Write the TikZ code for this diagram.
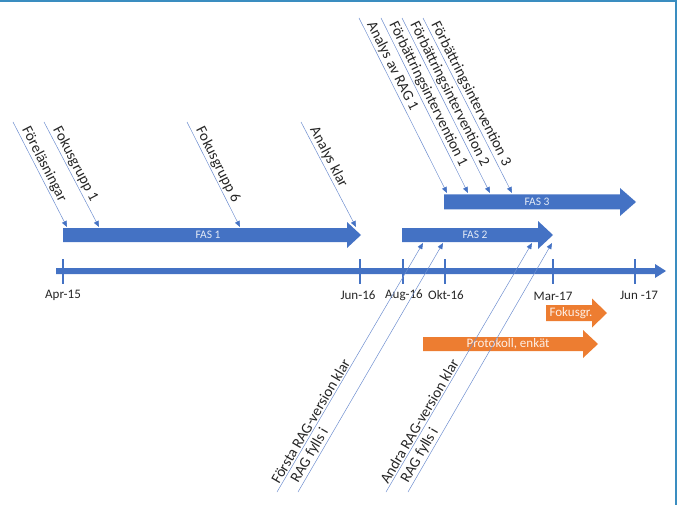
\documentclass[tikz,border=0pt]{standalone}
\usepackage{fontspec}
\setmainfont{Carlito}
\usetikzlibrary{arrows.meta}
\definecolor{obl}{HTML}{4472C4}
\definecolor{oor}{HTML}{ED7D31}
\definecolor{framec}{HTML}{3A8DC0}
\definecolor{txt}{HTML}{262626}
\definecolor{cl}{HTML}{6F8FD0}
\begin{document}
\begin{tikzpicture}[x=1pt,y=-1pt,
 callout/.style={draw=cl, line width=0.5pt, -{Triangle[length=6pt,width=5pt,color=obl,fill=obl]}},
 ctext/.style={font=\fontsize{15}{18}\selectfont, text=txt, inner sep=1.5pt, anchor=south west, sloped},
 datelbl/.style={font=\fontsize{13}{15}\selectfont, text=txt, inner sep=0pt},
 fastext/.style={font=\fontsize{11.5}{13}\selectfont, text=white!85!obl, inner sep=0pt},
 ortext/.style={font=\fontsize{13}{15}\selectfont, text=white!88!oor, inner sep=0pt},
 axtick/.style={draw=obl, line width=2pt},
]
\useasboundingbox (0,0) rectangle (677,505);
% frame (top and right)
\draw[draw=framec, line width=2.5pt] (0,1.2) -- (675.8,1.2) -- (675.8,505);

% time axis
\fill[obl] (56,268) -- (655,268) -- (655,264) -- (666,271) -- (655,278) -- (655,274) -- (56,274) -- cycle;
\foreach \xx in {63,360,403,445,553,635} \draw[axtick] (\xx,259) -- (\xx,284);
\node[datelbl] (d1) at (63,295) {Apr-15};
\node[datelbl] (d2) at (358,295) {Jun-16};
\node[datelbl] (d3) at (404,295) {Aug-16};
\node[datelbl] (d4) at (446,295) {Okt-16};
\node[datelbl] (d5) at (553,296) {Mar-17};
\node[datelbl] (d6) at (639,295) {Jun -17};

% phase arrows
\fill[obl] (63,228) -- (347,228) -- (347,222) -- (361,235) -- (347,248) -- (347,242) -- (63,242) -- cycle;
\node[fastext] (fas1) at (208,235) {FAS 1};
\fill[obl] (402,228) -- (538,228) -- (538,221) -- (553,235) -- (538,249) -- (538,242) -- (402,242) -- cycle;
\node[fastext] (fas2) at (475,235) {FAS 2};
\fill[obl] (444,194.5) -- (620,194.5) -- (620,188) -- (636,202) -- (620,216) -- (620,209.5) -- (444,209.5) -- cycle;
\node[fastext] (fas3) at (537,202) {FAS 3};

% orange arrows
\fill[oor] (546,305) -- (592,305) -- (592,298.5) -- (607,313) -- (592,327.5) -- (592,321) -- (546,321) -- cycle;
\node[ortext] (fok) at (571,313) {Fokusgr.};
\fill[oor] (423,337) -- (583,337) -- (583,330) -- (598,344) -- (583,358) -- (583,351) -- (423,351) -- cycle;
\node[ortext] (prot) at (508,344) {Protokoll, enkät};

% callouts, top left
\coordinate (s1) at (13,122);  \coordinate (e1) at (67,227);
\coordinate (s2) at (44,122);  \coordinate (e2) at (99,227);
\coordinate (s3) at (187,122); \coordinate (e3) at (240,227);
\coordinate (s4) at (301,122); \coordinate (e4) at (356,227);
% callouts, top right
\coordinate (s5) at (359,18);  \coordinate (e5) at (447,193);
\coordinate (s6) at (381,18);  \coordinate (e6) at (468,193);
\coordinate (s7) at (402,18);  \coordinate (e7) at (490,193);
\coordinate (s8) at (423,18);  \coordinate (e8) at (512,193);
% callouts, bottom
\coordinate (s9) at (277,492);  \coordinate (e9) at (423,243);
\coordinate (s10) at (298,492); \coordinate (e10) at (443,243);
\coordinate (s11) at (386,492); \coordinate (e11) at (532,243);
\coordinate (s12) at (408,492); \coordinate (e12) at (552,243);

\foreach \i in {1,...,12} \draw[callout] (s\i) -- (e\i);

\path (s1) -- node[ctext, pos=0.08] (t1) {Föreläsningar} (e1);
\path (s2) -- node[ctext, pos=0.08] (t2) {Fokusgrupp 1} (e2);
\path (s3) -- node[ctext, pos=0.08] (t3) {Fokusgrupp 6} (e3);
\path (s4) -- node[ctext, pos=0.08] (t4) {Analys klar} (e4);
\path (s5) -- node[ctext, pos=0.04] (t5) {Analys av RAG 1} (e5);
\path (s6) -- node[ctext, pos=0.04] (t6) {Förbättringsintervention 1} (e6);
\path (s7) -- node[ctext, pos=0.04] (t7) {Förbättringsintervention 2} (e7);
\path (s8) -- node[ctext, pos=0.04] (t8) {Förbättringsintervention 3} (e8);
\path (s9) -- node[ctext, pos=0.02] (t9) {Första RAG-version klar} (e9);
\path (s10) -- node[ctext, pos=0.02] (t10) {RAG fylls i} (e10);
\path (s11) -- node[ctext, pos=0.02] (t11) {Andra RAG-version klar} (e11);
\path (s12) -- node[ctext, pos=0.02] (t12) {RAG fylls i} (e12);
\end{tikzpicture}
\end{document}
